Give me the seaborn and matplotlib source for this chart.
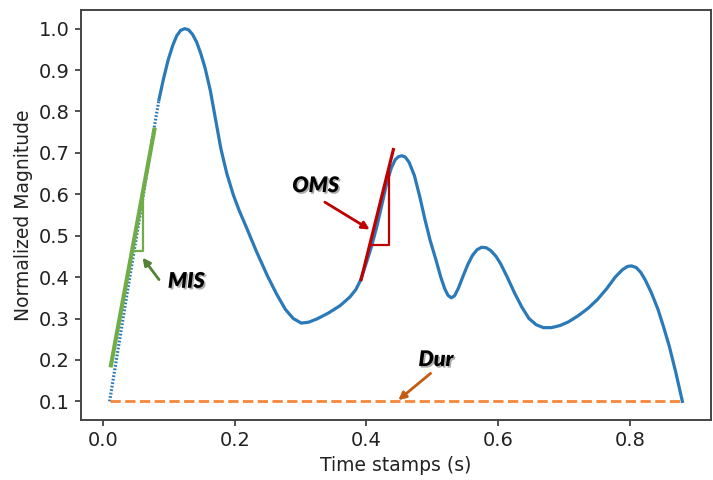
import matplotlib
matplotlib.use("Agg")
import matplotlib.pyplot as plt
import matplotlib.patheffects as pe
from matplotlib.ticker import MultipleLocator
import seaborn as sns
import pandas as pd

# ---- data ----
time_s = [0.010, 0.035, 0.060, 0.078, 0.085, 0.092, 0.099, 0.106, 0.112, 0.118,
          0.124, 0.130, 0.136, 0.142, 0.148, 0.155, 0.163, 0.171, 0.179, 0.188,
          0.198, 0.207, 0.217, 0.233, 0.250, 0.264, 0.277, 0.289, 0.301, 0.312,
          0.325, 0.342, 0.360, 0.375, 0.384, 0.391, 0.399, 0.408, 0.416, 0.424,
          0.431, 0.438, 0.444, 0.449, 0.454, 0.459, 0.465, 0.473, 0.481, 0.489,
          0.497, 0.506, 0.513, 0.519, 0.524, 0.529, 0.534, 0.540, 0.547, 0.554,
          0.561, 0.568, 0.575, 0.582, 0.589, 0.597, 0.604, 0.614, 0.625, 0.636,
          0.647, 0.658, 0.669, 0.681, 0.694, 0.707, 0.722, 0.737, 0.751, 0.765,
          0.778, 0.789, 0.797, 0.803, 0.810, 0.817, 0.824, 0.833, 0.843, 0.851,
          0.860, 0.870, 0.880]
magnitude = [0.100, 0.346, 0.587, 0.764, 0.829, 0.880, 0.925, 0.960, 0.983, 0.996,
             1.000, 0.997, 0.986, 0.968, 0.942, 0.905, 0.850, 0.780, 0.710, 0.650,
             0.598, 0.560, 0.523, 0.462, 0.402, 0.358, 0.322, 0.300, 0.289, 0.291,
             0.299, 0.313, 0.331, 0.352, 0.370, 0.392, 0.430, 0.475, 0.523, 0.578,
             0.628, 0.664, 0.684, 0.691, 0.693, 0.690, 0.677, 0.645, 0.595, 0.539,
             0.488, 0.440, 0.400, 0.372, 0.356, 0.350, 0.355, 0.374, 0.403, 0.430,
             0.452, 0.466, 0.472, 0.471, 0.464, 0.450, 0.432, 0.400, 0.362, 0.328,
             0.300, 0.285, 0.278, 0.278, 0.283, 0.292, 0.307, 0.325, 0.346, 0.372,
             0.400, 0.418, 0.426, 0.427, 0.423, 0.411, 0.392, 0.362, 0.322, 0.282,
             0.234, 0.170, 0.100]
n_dotted = 5  # first samples drawn as dotted (steep onset)

dur_x = [0.010, 0.880]
dur_y = [0.100, 0.100]

mis_x = [0.012, 0.078]
mis_y = [0.187, 0.756]
mis_tri_x = [0.0441, 0.061, 0.061]
mis_tri_y = [0.464, 0.464, 0.600]

oms_x = [0.392, 0.441]
oms_y = [0.394, 0.708]
oms_tri_x = [0.4048, 0.4338, 0.4338]
oms_tri_y = [0.4765, 0.4765, 0.654]

labels = ["MIS", "OMS", "Dur"]
label_x = [0.1265, 0.323, 0.5057]
label_y = [0.390, 0.621, 0.201]
arrow_from_x = [0.085, 0.337, 0.4975]
arrow_from_y = [0.394, 0.581, 0.1676]
arrow_to_x = [0.060, 0.405, 0.4485]
arrow_to_y = [0.447, 0.515, 0.103]
arrow_colors = ["#548235", "#c00000", "#c55a11"]

# ---- figure ----
fig = plt.figure(figsize=(7.13, 4.8), dpi=100)
ax = fig.add_axes([81 / 713, 60 / 480, 630 / 713, 410 / 480])

df = pd.DataFrame({"t": time_s, "m": magnitude})
blue = "#2a7ab9"
sns.lineplot(data=df.iloc[:n_dotted], x="t", y="m", ax=ax, color=blue,
             lw=2.3, linestyle=(0, (0.55, 0.55)), sort=False)
sns.lineplot(data=df.iloc[n_dotted - 1:], x="t", y="m", ax=ax, color=blue,
             lw=2.3, sort=False, solid_joinstyle="round")

sns.lineplot(x=dur_x, y=dur_y, ax=ax, color="#f5873a", lw=2.0, linestyle="--")

sns.lineplot(x=mis_x, y=mis_y, ax=ax, color="#70ad47", lw=3.0, zorder=5)
ax.plot(mis_tri_x, mis_tri_y, color="#70ad47", lw=1.6, zorder=5)
sns.lineplot(x=oms_x, y=oms_y, ax=ax, color="#c00000", lw=2.3, zorder=5)
ax.plot(oms_tri_x, oms_tri_y, color="#c00000", lw=1.6, zorder=5)

shadow = [pe.SimplePatchShadow(offset=(1.2, -1.2), shadow_rgbFace="#777777", alpha=0.6),
          pe.Normal()]
for lab, lx, ly, fx, fy, tx, ty, c in zip(labels, label_x, label_y, arrow_from_x,
                                          arrow_from_y, arrow_to_x, arrow_to_y,
                                          arrow_colors):
    ax.text(lx, ly, lab, ha="center", va="center", fontsize=15.5, fontweight="heavy",
            fontstyle="italic", family=["Lato", "DejaVu Sans"], color="black",
            path_effects=shadow, zorder=6)
    ax.annotate("", xy=(tx, ty), xytext=(fx, fy),
                arrowprops=dict(arrowstyle="-|>", color=c, lw=2.0,
                                mutation_scale=11, shrinkA=0, shrinkB=0),
                zorder=6)

ax.set_xlim(-0.0335, 0.9235)
ax.set_ylim(0.055, 1.045)
ax.yaxis.set_major_locator(MultipleLocator(0.1))
ax.xaxis.set_major_locator(MultipleLocator(0.2))
ax.set_xlabel("Time stamps (s)", fontsize=13.5, color="#222222")
ax.set_ylabel("Normalized Magnitude", fontsize=13.5, color="#222222")
ax.tick_params(labelsize=14, length=4.5, width=1.2, colors="#333333",
               labelcolor="#222222")
for s in ax.spines.values():
    s.set_color("#444444")
    s.set_linewidth(1.4)

fig.savefig("out.png", dpi=100)
